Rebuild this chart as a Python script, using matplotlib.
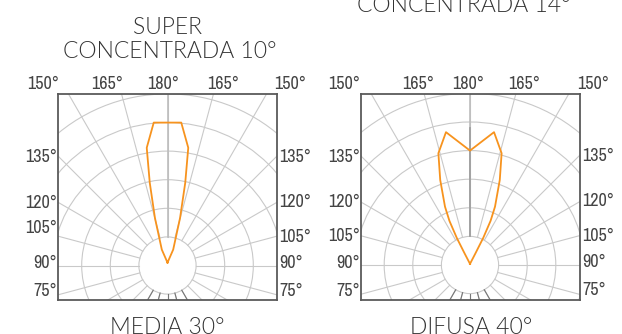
import numpy as np
import matplotlib
matplotlib.use("Agg")
import matplotlib.pyplot as plt
from matplotlib.patches import Circle
from matplotlib import font_manager

W, H = 622, 334

# photometric curves: angle from the upward 180° axis (deg, + = right) and intensity (ring units)
media_angle = [0, 19.7, 14.8, 12.1, 10.0, 5.5, -5.5, -10.0, -12.1, -14.8, -19.7, 0]
media_int = [0.1, 0.59, 1.72, 2.96, 4.18, 5.02, 5.02, 4.18, 2.96, 1.72, 0.59, 0.1]

difusa_angle = [0, 25, 26, 25, 23.2, 19.3, 15.8, 10.25, 0, -10.25, -15.8, -19.3, -23.2, -25, -26, -25, 0]
difusa_int = [0.04, 0.45, 1.05, 1.7, 2.22, 3.15, 4.06, 4.72, 4.0, 4.72, 4.06, 3.15, 2.22, 1.7, 1.05, 0.45, 0.04]

top_labels = ["150°", "165°", "180°", "165°", "150°"]
side_labels = ["135°", "120°", "105°", "90°", "75°"]

titles_top = [("SUPER", 167, 27), ("CONCENTRADA 10°", 170, 52), ("CONCENTRADA 14°", 464, 6)]
titles_bottom = [("MEDIA 30°", 167, 327), ("DIFUSA 40°", 471, 327)]

ORANGE = "#f7931e"
GRID = "#c9c9c9"
FRAME = "#5a5a5a"
TXT = "#444444"

SCALE = 28.6  # px per ring

panels = [
    dict(frame=(58, 277, 94, 299.5), center=(167.5, 265.5), ang=media_angle, val=media_int,
         top_x=[43, 107, 163, 223, 290], left_y=[157, 203, 228, 263, 291], right_y=[157, 202, 237, 263, 291],
         dark_center=None),
    dict(frame=(361, 580, 94, 299.5), center=(470, 265), ang=difusa_angle, val=difusa_int,
         top_x=[344, 418, 468, 524, 593], left_y=[157, 202, 236, 263, 291], right_y=[156, 201, 236, 262, 290],
         dark_center=4.8),
]

# pick a narrow face for the angle labels if one is installed
names = sorted({f.name for f in font_manager.fontManager.ttflist})
narrow = [n for n in names if "Narrow" in n or "Condensed" in n]
if narrow:
    lab_font = [narrow[0], "DejaVu Sans"]
    lab_size = 13
else:
    lab_font = ["Liberation Sans", "DejaVu Sans"]
    lab_size = 10.5
title_font = ["Lato", "DejaVu Sans"]

fig = plt.figure(figsize=(W / 100, H / 100), dpi=100)

def fx(x):
    return x / W

def fy(y):
    return 1 - y / H

for p in panels:
    x0, x1, y0, y1 = p["frame"]
    cx, cy = p["center"]
    ax = fig.add_axes([fx(x0), fy(y1), (x1 - x0) / W, (y1 - y0) / H])
    ax.set_xlim((x0 - cx) / SCALE, (x1 - cx) / SCALE)
    ax.set_ylim((cy - y1) / SCALE, (cy - y0) / SCALE)
    ax.set_xticks([])
    ax.set_yticks([])
    for s in ax.spines.values():
        s.set_color(FRAME)
        s.set_linewidth(1.3)
        s.set_zorder(10)

    for r in range(1, 7):
        ax.add_patch(Circle((0, 0), r, fill=False, ec=GRID, lw=0.8))
    for a in range(0, 360, 15):
        t = np.radians(a)
        ax.plot([np.sin(t), 9 * np.sin(t)], [np.cos(t), 9 * np.cos(t)], color=GRID, lw=0.8)
    # darker stubs below the inner circle
    for a in [150, 165, 180, 195, 210]:
        t = np.radians(a)
        ax.plot([np.sin(t), 2 * np.sin(t)], [np.cos(t), 2 * np.cos(t)], color="#777777", lw=0.8)
    # central 180° axis
    ax.plot([0, 0], [1, 7], color="#bdbdbd", lw=1.2)
    if p["dark_center"]:
        ax.plot([0, 0], [1, p["dark_center"]], color="#a0a0a0", lw=1.3)

    t = np.radians(p["ang"])
    v = np.array(p["val"])
    ax.plot(v * np.sin(t), v * np.cos(t), color=ORANGE, lw=1.3, zorder=5)

    for lab, x in zip(top_labels, p["top_x"]):
        fig.text(fx(x), fy(84), lab, ha="center", va="center", fontsize=lab_size, family=lab_font, color=TXT)
    for lab, y in zip(side_labels, p["left_y"]):
        fig.text(fx(x0 - 1), fy(y), lab, ha="right", va="center", fontsize=lab_size, family=lab_font, color=TXT)
    for lab, y in zip(side_labels, p["right_y"]):
        fig.text(fx(x1 + 2), fy(y), lab, ha="left", va="center", fontsize=lab_size, family=lab_font, color=TXT)

for txt, x, y in titles_top + titles_bottom:
    fig.text(fx(x), fy(y), txt, ha="center", va="center", fontsize=16.5, family=title_font,
             fontweight=300, color="#333333")

fig.savefig("out.png", dpi=100)
